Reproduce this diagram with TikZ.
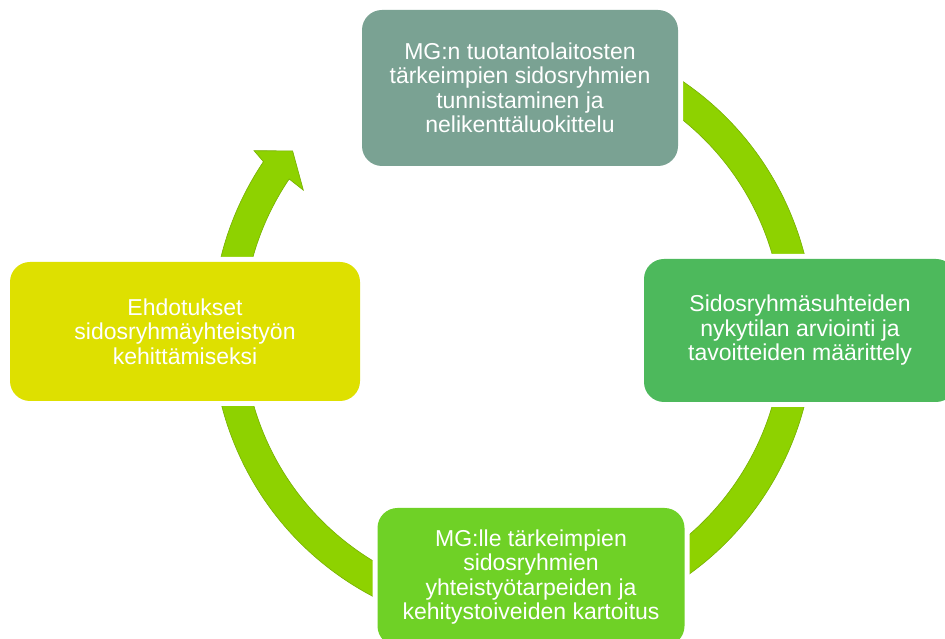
\documentclass[tikz,border=0pt]{standalone}
\usepackage{fontspec}
\setmainfont{Liberation Sans}
\definecolor{bandfill}{RGB}{142,210,0}
\definecolor{bandedge}{RGB}{118,176,0}
\definecolor{topbox}{RGB}{122,162,147}
\definecolor{rightbox}{RGB}{77,185,92}
\definecolor{bottombox}{RGB}{111,209,38}
\definecolor{leftbox}{RGB}{222,224,0}
\tikzset{
  stagebox/.style={rounded corners=20pt, inner sep=0pt, align=center,
    text=white, font=\fontsize{23}{24.5}\selectfont,
    preaction={draw=white, line width=10pt}},
}
\begin{document}
\begin{tikzpicture}[x=1pt,y=1pt]
\useasboundingbox (0,0) rectangle (945,639);
\fill[white] (0,0) rectangle (945,639);
% circular arrow
\begin{scope}[shift={(513,309)}]
\coordinate (cc) at (0,0);
\draw[fill=bandfill, draw=bandedge, line width=0.6pt, line join=miter]
  (110:301pt) arc[start angle=110, end angle=-214, radius=301pt]
  -- (145.3:315pt) coordinate (hbo)
  -- (140.9:284pt) coordinate (htip)
  -- (146.3:252pt) coordinate (hbi)
  -- (-214:270pt) arc[start angle=-214, end angle=110, radius=270pt]
  -- cycle;
\end{scope}
% boxes
\node[stagebox, fill=topbox, minimum width=316pt, minimum height=156pt] (top) at (520,551)
  {MG:n tuotantolaitosten\\tärkeimpien sidosryhmien\\tunnistaminen ja\\nelikenttäluokittelu};
\node[stagebox, fill=rightbox, minimum width=312pt, minimum height=143pt] (right) at (800,308.5)
  {Sidosryhmäsuhteiden\\nykytilan arviointi ja\\tavoitteiden määrittely};
\node[stagebox, fill=bottombox, minimum width=307pt, minimum height=138pt] (bottom) at (531,62)
  {MG:lle tärkeimpien\\sidosryhmien\\yhteistyötarpeiden ja\\kehitystoiveiden kartoitus};
\node[stagebox, fill=leftbox, minimum width=350pt, minimum height=139pt] (left) at (185,307.5)
  {Ehdotukset\\sidosryhmäyhteistyön\\kehittämiseksi};
\end{tikzpicture}
\end{document}
